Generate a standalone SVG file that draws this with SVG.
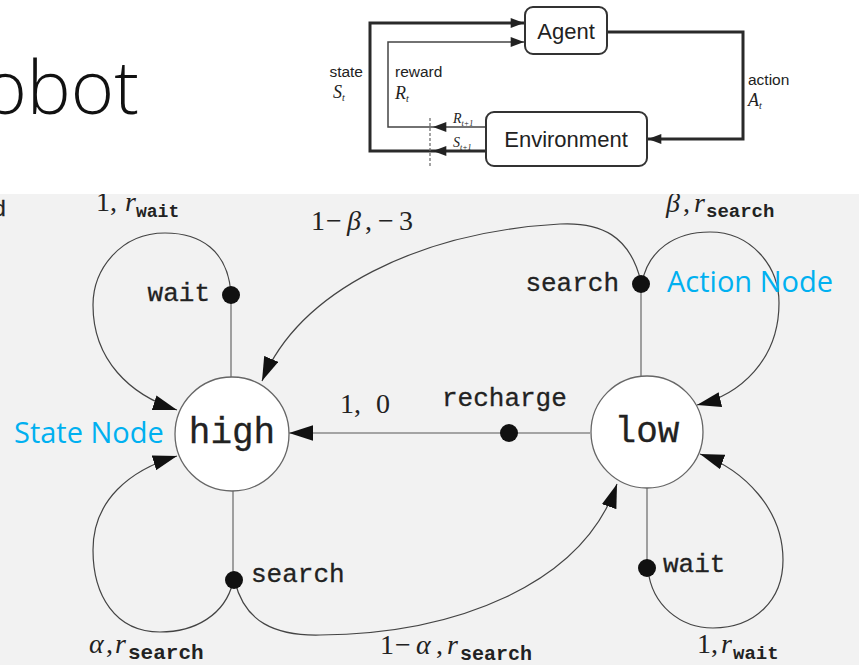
<svg xmlns="http://www.w3.org/2000/svg" width="859" height="665" viewBox="0 0 859 665">
<style>
.tt{font-family:"Liberation Mono","DejaVu Sans Mono",monospace;font-size:26px;fill:#222;stroke:#222;stroke-width:0.3}
.st{font-size:36px}
.m{font-family:"Liberation Serif","DejaVu Serif",serif;font-size:28px;fill:#222}
.mi{font-style:italic}
.sub{font-family:"Liberation Mono",monospace;font-weight:bold}
.blue{font-family:"Open Sans",sans-serif;font-size:29px;fill:#00b0f0}
.h{font-family:"Liberation Sans",Arial,sans-serif;fill:#222}
.ti{font-family:"Liberation Serif",serif;font-style:italic;fill:#222}
.curve{fill:none;stroke:#444;stroke-width:1.2}
.stem{fill:none;stroke:#8a8a8a;stroke-width:1.6}
.state{fill:#fff;stroke:#666;stroke-width:1.3}
.dot{fill:#111}
.box{fill:#fff;stroke:#333;stroke-width:2}
.thick{fill:none;stroke:#2a2a2a;stroke-width:3}
.thin{fill:none;stroke:#444;stroke-width:1.5}
</style>
<defs>
<marker id="ah" markerUnits="userSpaceOnUse" markerWidth="24" markerHeight="16" refX="22" refY="7" orient="auto" viewBox="0 0 22 14">
<path d="M0,0 L22,7 L0,14 Z" fill="#111"/>
</marker>
<marker id="sa" markerUnits="userSpaceOnUse" markerWidth="14" markerHeight="10" refX="12" refY="4.5" orient="auto" viewBox="0 0 12 9">
<path d="M0,0 L12,4.5 L0,9 Z" fill="#222"/>
</marker>
</defs>
<rect x="0" y="0" width="859" height="665" fill="#f2f2f2"/>

<!-- MDP graph -->
<g id="connectors">
<line class="stem" x1="231" y1="295" x2="231" y2="378"/>
<line class="stem" x1="641" y1="284" x2="641" y2="377"/>
<line class="stem" x1="233" y1="491" x2="233" y2="580"/>
<line class="stem" x1="647" y1="488" x2="647" y2="568"/>
<path class="stem" d="M590,433 L509,433"/>
<path class="stem" d="M509,433 L289,433" marker-end="url(#ah)"/>
<path class="curve" d="M231,294 C228,250 200,233 165,233 C120,233 93,270 93,305 C93,360 130,395 177,410" marker-end="url(#ah)"/>
<path class="curve" d="M642,283 C648,250 675,232 710,232 C750,232 779,265 779,303 C779,360 740,395 697,405" marker-end="url(#ah)"/>
<path class="curve" d="M641,282 C630,235 600,222 560,224 C420,232 300,290 262,381" marker-end="url(#ah)"/>
<path class="curve" d="M233,582 C225,615 195,632 160,632 C115,632 93,595 93,550 C93,500 130,470 177,456" marker-end="url(#ah)"/>
<path class="curve" d="M235,582 C245,622 275,636 320,635 C455,634 582,585 617,484" marker-end="url(#ah)"/>
<path class="curve" d="M648,570 C652,605 680,628 713,628 C755,628 783,600 783,560 C783,510 745,470 700,454" marker-end="url(#ah)"/>
</g>

<g id="high">
<circle class="state" cx="232" cy="434" r="57"/>
<text class="tt st" x="232" y="443" text-anchor="middle">high</text>
</g>
<g id="low">
<circle class="state" cx="647" cy="432" r="56"/>
<text class="tt st" x="647" y="442" text-anchor="middle">low</text>
</g>
<g id="high-wait">
<circle class="dot" cx="231" cy="295" r="9"/>
<text class="tt" x="210" y="301" text-anchor="end">wait</text>
</g>
<g id="high-search">
<circle class="dot" cx="234" cy="580" r="9"/>
<text class="tt" x="251" y="582">search</text>
</g>
<g id="low-search">
<circle class="dot" cx="641" cy="284" r="9"/>
<text class="tt" x="619" y="291" text-anchor="end">search</text>
</g>
<g id="low-recharge">
<circle class="dot" cx="509" cy="433" r="9"/>
<text class="tt" x="442" y="406">recharge</text>
</g>
<g id="low-wait">
<circle class="dot" cx="647" cy="568" r="9"/>
<text class="tt" x="663" y="572">wait</text>
</g>

<g id="edge-labels">
<text class="m" y="211"><tspan x="96">1,</tspan><tspan x="125" class="mi">r</tspan><tspan x="136" y="217" class="sub" font-size="18">wait</tspan></text>
<text class="m" y="230"><tspan x="311">1</tspan><tspan x="326">−</tspan><tspan x="347" class="mi">β</tspan><tspan x="365">,</tspan><tspan x="378">−</tspan><tspan x="399">3</tspan></text>
<text class="m" y="212"><tspan x="666" class="mi">β</tspan><tspan x="683">,</tspan><tspan x="694" class="mi">r</tspan><tspan x="706" y="217" class="sub" font-size="19">search</tspan></text>
<text class="m" y="413"><tspan x="340">1,</tspan><tspan x="376">0</tspan></text>
<text class="m" y="653"><tspan x="89" class="mi">α</tspan><tspan x="106">,</tspan><tspan x="115" class="mi">r</tspan><tspan x="128" y="659" class="sub" font-size="21">search</tspan></text>
<text class="m" y="654"><tspan x="380">1</tspan><tspan x="395">−</tspan><tspan x="416" class="mi">α</tspan><tspan x="436">,</tspan><tspan x="447" class="mi">r</tspan><tspan x="460" y="660" class="sub" font-size="20">search</tspan></text>
<text class="m" y="653"><tspan x="697">1,</tspan><tspan x="721" class="mi">r</tspan><tspan x="733" y="659" class="sub" font-size="19">wait</tspan></text>
</g>

<g id="annotations">
<text class="blue" x="14" y="443">State Node</text>
<text class="blue" x="667" y="292">Action Node</text>
</g>

<!-- white slide area above the graph -->
<rect x="0" y="0" width="859" height="194" fill="#fff"/>
<text x="139" y="114" text-anchor="end" font-family="'Open Sans',sans-serif" font-weight="300" font-size="74" fill="#111">obot</text>
<text x="-7" y="216" class="tt" style="font-size:22px">d</text>

<!-- agent-environment figure -->
<g id="rl-connectors">
<path class="thick" d="M486,151 L433,151" marker-end="url(#sa)"/>
<path class="thick" d="M433,151 L370,151 L370,23 L524,23" marker-end="url(#sa)"/>
<path class="thin" d="M486,127 L433,127" marker-end="url(#sa)"/>
<path class="thin" d="M433,127 L388,127 L388,42 L524,42" marker-end="url(#sa)"/>
<path class="thick" d="M607,32 L743,32 L743,139 L648,139" marker-end="url(#sa)"/>
<line x1="430" y1="118" x2="430" y2="167" stroke="#666" stroke-width="1.2" stroke-dasharray="3,2"/>
</g>
<g id="agent">
<rect class="box" x="525" y="7" width="82" height="47" rx="8"/>
<text class="h" x="566" y="39" text-anchor="middle" font-size="22">Agent</text>
</g>
<g id="environment">
<rect class="box" x="486" y="112" width="161" height="54" rx="8"/>
<text class="h" x="566" y="147" text-anchor="middle" font-size="22">Environment</text>
</g>
<g id="rl-labels">
<text class="h" x="363" y="77" text-anchor="end" font-size="15.5">state</text>
<text class="ti" x="333" y="98" font-size="18">S<tspan font-size="10" dy="3">t</tspan></text>
<text class="h" x="395" y="77" font-size="15.5">reward</text>
<text class="ti" x="395" y="99" font-size="18">R<tspan font-size="10" dy="3">t</tspan></text>
<text class="h" x="748" y="85" font-size="15.5">action</text>
<text class="ti" x="748" y="106" font-size="18">A<tspan font-size="10" dy="3">t</tspan></text>
<text class="ti" x="453" y="123" font-size="14">R<tspan font-size="8" dy="3">t+1</tspan></text>
<text class="ti" x="453" y="147" font-size="14">S<tspan font-size="8" dy="3">t+1</tspan></text>
</g>
</svg>
